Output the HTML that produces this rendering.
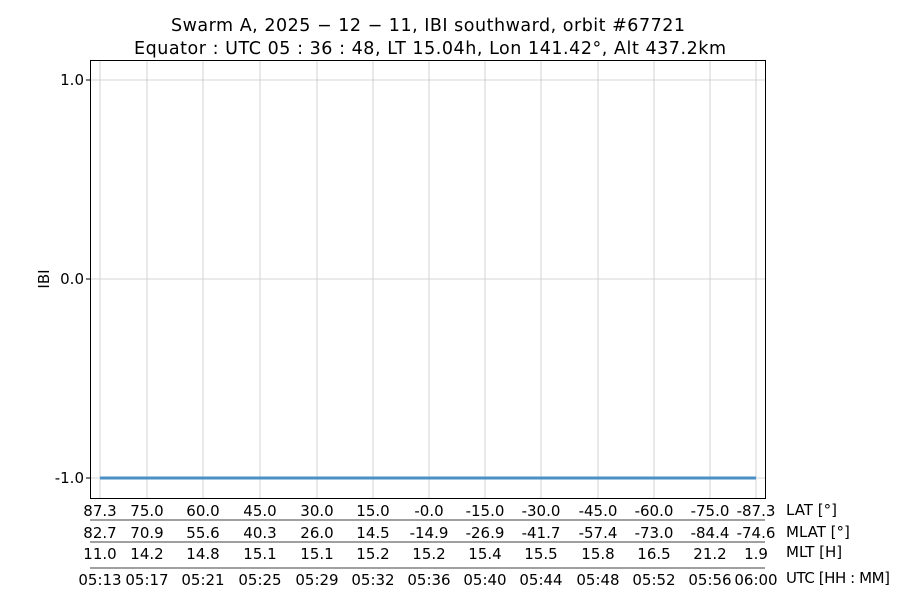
<!DOCTYPE html>
<html><head><meta charset="utf-8"><style>
body{margin:0;background:#fff}
svg{display:block;font-family:"DejaVu Sans","Liberation Sans",sans-serif}
</style></head><body>
<svg width="900" height="600" viewBox="0 0 900 600" xmlns="http://www.w3.org/2000/svg">
<rect width="900" height="600" fill="#fff"/>
<text x="428" y="31" font-size="17.5" text-anchor="middle" textLength="514">Swarm A,  2025 − 12 − 11,  IBI southward,  orbit #67721</text>
<text x="430" y="54" font-size="17.5" text-anchor="middle" textLength="592">Equator :  UTC 05 : 36 : 48,  LT 15.04h,  Lon 141.42°,  Alt 437.2km</text>
<g stroke="#c8c8c8" stroke-width="0.8">
<line x1="90" x2="765" y1="80" y2="80"/><line x1="90" x2="765" y1="279" y2="279"/><line x1="90" x2="765" y1="478" y2="478"/>
<line x1="100" x2="100" y1="60" y2="498"/><line x1="147" x2="147" y1="60" y2="498"/><line x1="203" x2="203" y1="60" y2="498"/><line x1="260" x2="260" y1="60" y2="498"/><line x1="317" x2="317" y1="60" y2="498"/><line x1="373" x2="373" y1="60" y2="498"/><line x1="429" x2="429" y1="60" y2="498"/><line x1="485" x2="485" y1="60" y2="498"/><line x1="541" x2="541" y1="60" y2="498"/><line x1="598" x2="598" y1="60" y2="498"/><line x1="654" x2="654" y1="60" y2="498"/><line x1="710" x2="710" y1="60" y2="498"/><line x1="756" x2="756" y1="60" y2="498"/>
</g>
<line x1="100" x2="756" y1="478" y2="478" stroke="#4a90c4" stroke-width="3"/>
<rect x="90.5" y="60.5" width="675" height="438" fill="none" stroke="#000" stroke-width="1"/>
<g stroke="#000"><line x1="86" x2="90" y1="80" y2="80"/><line x1="86" x2="90" y1="279" y2="279"/><line x1="86" x2="90" y1="478" y2="478"/></g>
<g font-size="15" text-anchor="end"><text x="84" y="85">1.0</text><text x="84" y="284">0.0</text><text x="84" y="483">-1.0</text></g>
<text transform="translate(49,279) rotate(-90)" font-size="15" text-anchor="middle">IBI</text>
<g stroke="#000" stroke-width="0.8"><line x1="90" x2="765" y1="520" y2="520"/><line x1="90" x2="765" y1="542" y2="542"/><line x1="90" x2="765" y1="568" y2="568"/></g>
<g font-size="15" text-anchor="middle">
<g transform="translate(0,516)"><text x="100">87.3</text><text x="147">75.0</text><text x="203">60.0</text><text x="260">45.0</text><text x="317">30.0</text><text x="373">15.0</text><text x="429">-0.0</text><text x="485">-15.0</text><text x="541">-30.0</text><text x="598">-45.0</text><text x="654">-60.0</text><text x="710">-75.0</text><text x="756">-87.3</text></g>
<g transform="translate(0,538)"><text x="100">82.7</text><text x="147">70.9</text><text x="203">55.6</text><text x="260">40.3</text><text x="317">26.0</text><text x="373">14.5</text><text x="429">-14.9</text><text x="485">-26.9</text><text x="541">-41.7</text><text x="598">-57.4</text><text x="654">-73.0</text><text x="710">-84.4</text><text x="756">-74.6</text></g>
<g transform="translate(0,559)"><text x="100">11.0</text><text x="147">14.2</text><text x="203">14.8</text><text x="260">15.1</text><text x="317">15.1</text><text x="373">15.2</text><text x="429">15.2</text><text x="485">15.4</text><text x="541">15.5</text><text x="598">15.8</text><text x="654">16.5</text><text x="710">21.2</text><text x="756">1.9</text></g>
<g transform="translate(0,585)"><text x="100">05:13</text><text x="147">05:17</text><text x="203">05:21</text><text x="260">05:25</text><text x="317">05:29</text><text x="373">05:32</text><text x="429">05:36</text><text x="485">05:40</text><text x="541">05:44</text><text x="598">05:48</text><text x="654">05:52</text><text x="710">05:56</text><text x="756">06:00</text></g>
</g>
<g font-size="15"><text x="786" y="515">LAT [°]</text><text x="786" y="537">MLAT [°]</text><text x="786" y="557">MLT [H]</text><text x="786" y="583" textLength="104">UTC [HH : MM]</text></g>
</svg>
</body></html>
